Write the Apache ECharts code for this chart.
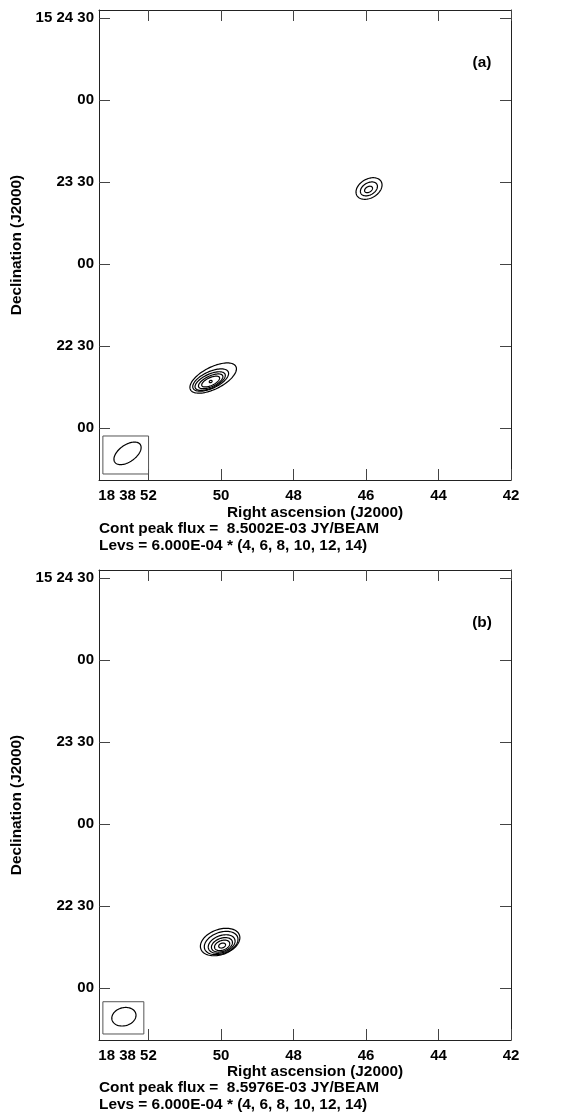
<!DOCTYPE html>
<html>
<head>
<meta charset="utf-8">
<script src="https://cdn.jsdelivr.net/npm/echarts@6/dist/echarts.min.js"></script>
<style>
html, body { margin: 0; padding: 0; background: #fff; }
#chart { width: 569px; height: 1113px; }
</style>
</head>
<body>
<div id="chart"></div>
<script>
// RA in seconds of 18 38 xx, Dec in arcsec above 15 22 00
var raTicks = [52, 50, 48, 46, 44, 42];
var raTickLabels = ['18 38 52', '50', '48', '46', '44', '42'];
var decTicks = [0, 30, 60, 90, 120, 150];
var decTickLabels = ['00', '22 30', '00', '23 30', '00', '15 24 30'];

// contours: [ra, dec, semi-major ("), semi-minor ("), angle (deg)]
var contoursA = [
    [50.217, 18.40, 9.33, 4.00, 27],
    [50.286, 17.67, 7.10, 3.05, 25],
    [50.300, 17.30, 6.00, 2.50, 25],
    [50.286, 17.20, 4.85, 1.95, 25],
    [50.286, 17.12, 3.55, 1.43, 25],
    [50.286, 17.12, 0.55, 0.40, 25],
    [45.917, 87.74, 5.12, 3.48, 30],
    [45.920, 87.60, 3.37, 2.20, 30],
    [45.930, 87.40, 1.57, 1.02, 30]
];
var contoursB = [
    [50.025, 16.94, 7.50, 4.60, 20],
    [49.997, 16.58, 6.40, 3.90, 20],
    [49.983, 16.21, 5.10, 3.10, 20],
    [49.975, 15.92, 4.00, 2.40, 20],
    [49.970, 15.73, 2.90, 1.75, 20],
    [49.970, 15.66, 1.30, 0.85, 20]
];
var beamA = [[52.58, -9.15, 5.67, 3.10, 35]];
var beamB = [[52.68, -10.39, 4.50, 3.30, 15]];
var beamBoxA = [[53.26, -2.8, 52.0, -16.7]];
var beamBoxB = [[53.26, -4.9, 52.13, -16.7]];

var panelTags = ['(a)', '(b)'];
var peakFlux = ['8.5002E-03', '8.5976E-03'];
var levBase = '6.000E-04';
var levels = [4, 6, 8, 10, 12, 14];

var FONT = "'Liberation Sans', Arial, sans-serif";
var chart = echarts.init(document.getElementById('chart'));

function ellipseItem(params, api) {
    var c = api.coord([api.value(0), api.value(1)]);
    var k = Math.abs(api.size([0, 1])[1]);
    var a = api.value(2) * k, b = api.value(3) * k;
    var th = api.value(4) * Math.PI / 180;
    var pts = [];
    for (var t = 0; t < 90; t++) {
        var u = t / 90 * 2 * Math.PI;
        var ex = a * Math.cos(u), ey = b * Math.sin(u);
        pts.push([c[0] + ex * Math.cos(th) - ey * Math.sin(th),
                  c[1] - (ex * Math.sin(th) + ey * Math.cos(th))]);
    }
    return {type: 'polygon', shape: {points: pts},
            style: {fill: 'none', stroke: '#000', lineWidth: 1.2}};
}

function boxItem(params, api) {
    var p1 = api.coord([api.value(0), api.value(1)]);
    var p2 = api.coord([api.value(2), api.value(3)]);
    return {type: 'rect',
            shape: {x: Math.min(p1[0], p2[0]), y: Math.min(p1[1], p2[1]),
                    width: Math.abs(p2[0] - p1[0]), height: Math.abs(p2[1] - p1[1])},
            style: {fill: 'none', stroke: '#555', lineWidth: 1}};
}

var tops = [10, 570];
var grids = [], xAxes = [], yAxes = [], series = [], graphics = [];
var labelStyle = {fontSize: 15, fontWeight: 'bold', fontFamily: FONT, color: '#000'};
var textStyle = {fontSize: 15.4, fontWeight: 'bold', fontFamily: FONT, fill: '#000'};

tops.forEach(function (top, i) {
    grids.push({left: 99, top: top, width: 412, height: 470});
    var xBase = {
        gridIndex: i, type: 'value', min: 42, max: 53.367, inverse: true,
        axisLine: {show: true, onZero: false, lineStyle: {color: '#222', width: 1}},
        splitLine: {show: false},
        axisTick: {show: true, inside: true, length: 11, customValues: raTicks,
                   lineStyle: {color: '#444', width: 1}}
    };
    xAxes.push(Object.assign({}, xBase, {
        position: 'bottom',
        axisLabel: Object.assign({
            show: true, margin: 8, customValues: raTicks,
            formatter: function (v) {
                var idx = raTicks.indexOf(v);
                var s = idx >= 0 ? raTickLabels[idx] : '';
                return idx === 0 ? '{w|' + s + '}' : s;
            },
            rich: {w: Object.assign({padding: [0, 42, 0, 0]}, labelStyle)}
        }, labelStyle)
    }));
    xAxes.push(Object.assign({}, xBase, {position: 'top', axisLabel: {show: false}}));
    var yBase = {
        gridIndex: i, type: 'value', min: -18.9, max: 153.05,
        axisLine: {show: true, onZero: false, lineStyle: {color: '#222', width: 1}},
        splitLine: {show: false},
        axisTick: {show: true, inside: true, length: 11, customValues: decTicks,
                   lineStyle: {color: '#444', width: 1}}
    };
    yAxes.push(Object.assign({}, yBase, {
        position: 'left',
        axisLabel: Object.assign({
            show: true, margin: 5, customValues: decTicks,
            formatter: function (v) {
                var idx = decTicks.indexOf(v);
                return idx >= 0 ? decTickLabels[idx] : '';
            }
        }, labelStyle)
    }));
    yAxes.push(Object.assign({}, yBase, {position: 'right', axisLabel: {show: false}}));

    var cont = i === 0 ? contoursA : contoursB;
    var beam = i === 0 ? beamA : beamB;
    var box = i === 0 ? beamBoxA : beamBoxB;
    series.push({type: 'custom', xAxisIndex: 2 * i, yAxisIndex: 2 * i,
                 renderItem: ellipseItem, data: cont, silent: true});
    series.push({type: 'custom', xAxisIndex: 2 * i, yAxisIndex: 2 * i,
                 renderItem: ellipseItem, data: beam, silent: true});
    series.push({type: 'custom', xAxisIndex: 2 * i, yAxisIndex: 2 * i,
                 renderItem: boxItem, data: box, silent: true});

    var off = i * 559;
    graphics.push({type: 'text', x: 482, y: top + 53,
        style: Object.assign({text: panelTags[i], textAlign: 'center', textVerticalAlign: 'middle'}, textStyle)});
    graphics.push({type: 'text', x: 17, y: top + 235, rotation: Math.PI / 2,
        style: Object.assign({text: 'Declination (J2000)', textAlign: 'center', textVerticalAlign: 'middle'}, textStyle)});
    graphics.push({type: 'text', x: 227, y: 513 + off,
        style: Object.assign({text: 'Right ascension (J2000)', textAlign: 'left', textVerticalAlign: 'middle'}, textStyle)});
    graphics.push({type: 'text', x: 99, y: 529 + off,
        style: Object.assign({text: 'Cont peak flux =  ' + peakFlux[i] + ' JY/BEAM', textAlign: 'left', textVerticalAlign: 'middle'}, textStyle)});
    graphics.push({type: 'text', x: 99, y: 545.5 + off,
        style: Object.assign({text: 'Levs = ' + levBase + ' * (' + levels.join(', ') + ')', textAlign: 'left', textVerticalAlign: 'middle'}, textStyle)});
});

chart.setOption({
    animation: false,
    backgroundColor: '#fff',
    grid: grids,
    xAxis: xAxes,
    yAxis: yAxes,
    series: series,
    graphic: graphics
});
</script>
</body>
</html>
